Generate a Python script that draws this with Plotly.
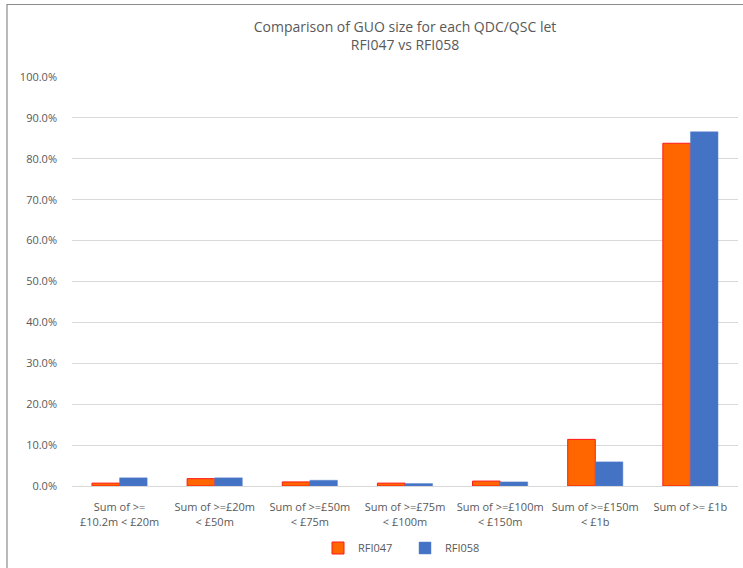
import plotly.graph_objects as go

categories = [
    "Sum of >=<br>£10.2m < £20m",
    "Sum of >=£20m<br>< £50m",
    "Sum of >=£50m<br>< £75m",
    "Sum of >=£75m<br>< £100m",
    "Sum of >=£100m<br>< £150m",
    "Sum of >=£150m<br>< £1b",
    "Sum of >= £1b",
]
rfi047 = [0.007, 0.018, 0.010, 0.007, 0.012, 0.114, 0.838]
rfi058 = [0.020, 0.020, 0.014, 0.006, 0.010, 0.059, 0.866]
y_ticks = [i / 10 for i in range(11)]

W, H = 743, 568
L, R, T, B = 72, 5, 77, 82
pw = W - L - R
ph = H - T - B


def px_x(x):
    return (x - L) / pw


def px_y(y):
    return (H - B - y) / ph


fig = go.Figure()
fig.add_bar(
    x=categories, y=rfi047, name="RFI047",
    marker=dict(color="#FF6600", line=dict(color="#FF1A1A", width=1)),
)
fig.add_bar(
    x=categories, y=rfi058, name="RFI058",
    marker=dict(color="#4472C4", line=dict(color="#5B85D0", width=0.5)),
)

# outer chart frame: left and top edges inside the page, others pushed off-canvas
fig.add_shape(
    type="rect", xref="paper", yref="paper",
    x0=px_x(7), x1=px_x(W + 5), y0=px_y(H + 5), y1=px_y(4.5),
    line=dict(color="#8C8C8C", width=1.2), fillcolor="rgba(0,0,0,0)", layer="below",
)

fig.update_layout(
    width=W, height=H,
    margin=dict(l=L, r=R, t=T, b=B),
    paper_bgcolor="white", plot_bgcolor="white",
    font=dict(family="Open Sans", size=11, color="#595959"),
    title=dict(
        text="Comparison of GUO size for each QDC/QSC let<br>RFI047 vs RFI058",
        x=0.5, xanchor="center", xref="paper", y=1 - 32 / H, yanchor="top",
        font=dict(family="Open Sans", size=14, color="#595959"),
    ),
    barmode="group", bargap=0.42, bargroupgap=0,
    showlegend=True,
    legend=dict(
        orientation="h", x=0.5, xanchor="center", xref="paper",
        y=px_y(548), yanchor="middle", yref="paper",
        font=dict(size=11, color="#595959"),
        entrywidth=42, entrywidthmode="pixels", itemwidth=30,
    ),
    xaxis=dict(
        showgrid=False, showline=True, linecolor="#D9D9D9", linewidth=1,
        ticks="", tickfont=dict(size=11, color="#595959"), tickangle=0,
        ticklabelstandoff=11,
    ),
    yaxis=dict(
        range=[0, 1.0], tickvals=y_ticks, tickformat=".1%",
        showgrid=True, gridcolor="#D9D9D9", gridwidth=1,
        zeroline=False, ticks="", ticklen=0,
        tickfont=dict(size=11, color="#595959"),
        ticklabelstandoff=14,
    ),
)

fig.write_html("out.html")
